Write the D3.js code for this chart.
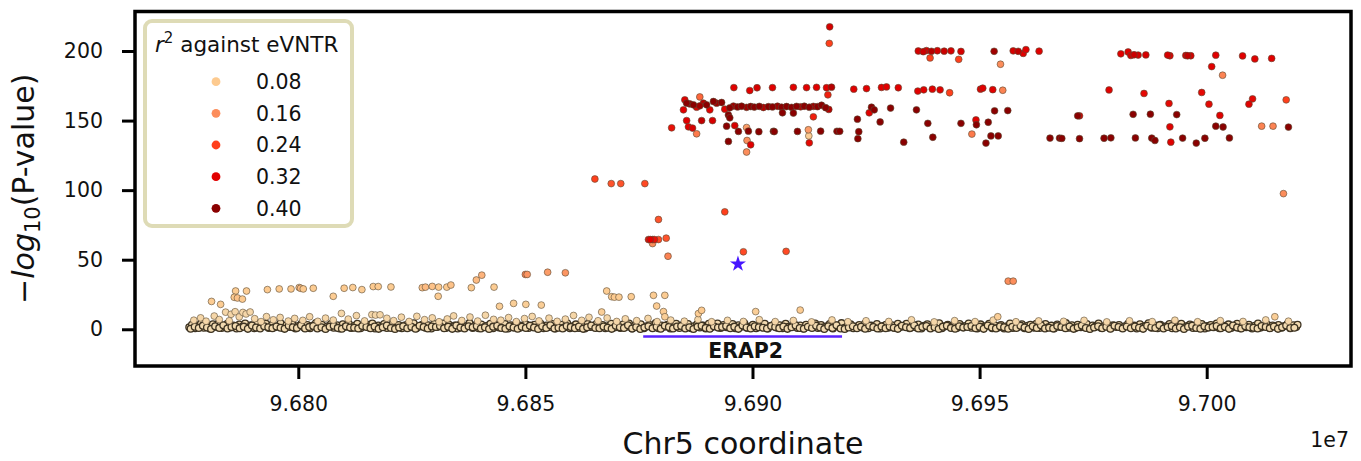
<!DOCTYPE html>
<html>
<head>
<meta charset="utf-8">
<script src="https://cdn.jsdelivr.net/npm/d3@7"></script>
<style>
  body { margin: 0; background: #fff; }
  svg { display: block; }
  text { font-family: "DejaVu Sans", sans-serif; }
</style>
</head>
<body>
<script>
// positions are kb offsets from 96,800,000 bp on chr5; y is -log10(P)
const originBp = 96800000;

// bulk of variants, r2 ~ 0
const baseline = [
  [-24.0,1.5],[-23.4,3.2],[-22.7,0.8],[-22.0,2.6],[-21.4,4.1],[-20.8,1.1],[-20.1,2.9],[-19.5,0.5],[-18.8,3.6],[-18.2,1.8],
  [-17.5,4.4],[-16.9,0.9],[-16.2,2.4],[-15.6,3.9],[-14.9,1.3],[-14.3,2.7],[-13.6,0.6],[-13.0,3.4],[-12.3,1.9],[-11.7,4.2],
  [-11.0,1.0],[-10.4,2.8],[-9.7,0.7],[-9.1,3.7],[-8.4,1.6],[-7.8,2.5],[-7.1,4.0],[-6.5,0.9],[-5.8,3.1],[-5.2,1.4],
  [-4.5,2.2],[-3.9,4.3],[-3.2,0.8],[-2.6,2.9],[-1.9,1.7],[-1.3,3.5],[-0.6,0.6],
  [0.0,2.3],[0.7,4.0],[1.3,1.2],[2.0,3.1],[2.6,0.7],[3.3,2.6],[3.9,4.5],[4.6,1.5],[5.2,3.3],[5.9,0.9],
  [6.5,2.1],[7.2,3.8],[7.8,1.1],[8.5,2.8],[9.1,0.5],[9.8,3.6],[10.4,1.9],[11.1,4.1],[11.7,1.0],[12.4,2.5],
  [13.0,3.9],[13.7,0.8],[14.3,2.2],[15.0,3.4],[15.6,1.3],[16.3,4.2],[16.9,0.6],[17.6,2.7],[18.2,1.6],[18.9,3.7],
  [19.5,0.9],[20.2,2.4],[20.8,4.0],[21.5,1.2],[22.1,3.0],[22.8,0.7],[23.4,2.6],[24.1,3.5],[24.7,1.4],[25.4,4.3],
  [26.0,0.8],[26.7,2.0],[27.3,3.2],[28.0,1.1],[28.6,2.9],[29.3,0.5],[29.9,3.8],[30.6,1.7],[31.2,2.4],[31.9,4.1],
  [32.5,0.9],[33.2,3.3],[33.8,1.5],[34.5,2.7],[35.1,0.6],[35.8,3.9],[36.4,1.8],[37.1,2.3],[37.7,4.4],[38.4,1.0],
  [39.0,2.8],[39.7,0.7],[40.3,3.4],[41.0,1.6],[41.6,2.5],[42.3,4.0],[42.9,0.8],[43.6,3.1],[44.2,1.3],[44.9,2.2],
  [45.5,3.7],[46.2,0.6],[46.8,2.9],[47.5,1.9],[48.1,4.2],[48.8,1.1],[49.4,2.6],
  [50.1,3.6],[50.7,0.9],[51.4,2.0],[52.0,3.3],[52.7,1.4],[53.3,4.1],[54.0,0.7],[54.6,2.7],[55.3,1.7],[55.9,3.8],
  [56.6,0.5],[57.2,2.4],[57.9,3.2],[58.5,1.2],[59.2,4.3],[59.8,0.8],[60.5,2.1],[61.1,3.5],[61.8,1.0],[62.4,2.9],
  [63.1,0.6],[63.7,3.7],[64.4,1.6],[65.0,2.5],[65.7,4.0],[66.3,1.1],[67.0,3.0],[67.6,0.7],[68.3,2.3],[68.9,3.9],
  [69.6,1.3],[70.2,2.8],[70.9,0.9],[71.5,3.4],[72.2,1.8],[72.8,4.2],[73.5,0.6],[74.1,2.6],[74.8,1.5],[75.4,3.6],
  [76.1,0.8],[76.7,2.2],[77.4,3.1],[78.0,1.2],[78.7,4.4],[79.3,0.7],[80.0,2.7],[80.6,1.9],[81.3,3.3],[81.9,0.5],
  [82.6,2.4],[83.2,4.0],[83.9,1.0],[84.5,2.9],[85.2,1.6],[85.8,3.8],[86.5,0.8],[87.1,2.1],[87.8,3.5],[88.4,1.3],
  [89.1,2.6],[89.7,0.6],[90.4,3.9],[91.0,1.7],[91.7,2.3],[92.3,4.1],[93.0,0.9],[93.6,3.0],[94.3,1.4],[94.9,2.5],
  [95.6,3.7],[96.2,0.7],[96.9,2.8],[97.5,1.8],[98.2,4.3],[98.8,1.1],[99.5,2.0],
  [100.1,3.2],[100.8,0.8],[101.4,2.6],[102.1,1.5],[102.7,3.9],[103.4,0.6],[104.0,2.4],[104.7,3.4],[105.3,1.2],[106.0,2.9],
  [106.6,0.7],[107.3,4.0],[107.9,1.7],[108.6,2.2],[109.2,3.6],[109.9,1.0],[110.5,2.7],[111.2,0.5],[111.8,3.3],[112.5,1.6],
  [113.1,2.5],[113.8,4.2],[114.4,0.9],[115.1,3.0],[115.7,1.4],[116.4,2.1],[117.0,3.8],[117.7,0.6],[118.3,2.8],[119.0,1.9],
  [119.6,4.4],[120.3,1.1],[120.9,2.4],[121.6,3.5],[122.2,0.8],[122.9,2.0],[123.5,3.1],[124.2,1.3],[124.8,4.1],[125.5,0.7],
  [126.1,2.6],[126.8,1.8],[127.4,3.7],[128.1,0.5],[128.7,2.3],[129.4,3.3],[130.0,1.2],[130.7,2.9],[131.3,0.9],[132.0,3.9],
  [132.6,1.6],[133.3,2.2],[133.9,4.0],[134.6,0.8],[135.2,2.7],[135.9,1.5],[136.5,3.4],[137.2,0.6],[137.8,2.5],[138.5,3.6],
  [139.1,1.0],[139.8,2.8],[140.4,1.7],[141.1,4.3],[141.7,0.7],[142.4,2.1],[143.0,3.2],[143.7,1.4],[144.3,2.6],[145.0,0.9],
  [145.6,3.8],[146.3,1.9],[146.9,2.3],[147.6,4.1],[148.2,1.1],[148.9,2.9],[149.5,0.6],
  [150.2,3.5],[150.8,1.6],[151.5,2.4],[152.1,3.9],[152.8,0.8],[153.4,2.7],[154.1,1.3],[154.7,3.1],[155.4,0.5],[156.0,2.2],
  [156.7,4.2],[157.3,1.0],[158.0,2.8],[158.6,1.8],[159.3,3.6],[159.9,0.7],[160.6,2.5],[161.2,3.3],[161.9,1.2],[162.5,4.0],
  [163.2,0.9],[163.8,2.1],[164.5,3.7],[165.1,1.5],[165.8,2.6],[166.4,0.6],[167.1,3.4],[167.7,1.7],[168.4,2.3],[169.0,4.4],
  [169.7,1.1],[170.3,2.9],[171.0,0.8],[171.6,3.2],[172.3,1.4],[172.9,2.0],[173.6,3.8],[174.2,0.5],[174.9,2.7],[175.5,1.9],
  [176.2,4.1],[176.8,1.0],[177.5,2.4],[178.1,3.5],[178.8,0.7],[179.4,2.8],[180.1,1.6],[180.7,3.0],[181.4,0.9],[182.0,2.2],
  [182.7,3.9],[183.3,1.3],[184.0,2.6],[184.6,0.6],[185.3,3.6],[185.9,1.8],[186.6,2.5],[187.2,4.3],[187.9,1.1],[188.5,2.9],
  [189.2,0.8],[189.8,3.3],[190.5,1.5],[191.1,2.1],[191.8,3.7],[192.4,0.7],[193.1,2.7],[193.7,1.9],[194.4,4.0],[195.0,1.2],
  [195.7,2.3],[196.3,3.4],[197.0,0.9],[197.6,2.8],[198.3,1.6],[198.9,3.8],[199.6,0.5],[200.2,2.4],[200.9,3.1],[201.5,1.4],
  [202.2,4.2],[202.8,0.8],[203.5,2.6],[204.1,1.7],[204.8,3.5],[205.4,1.0],[206.1,2.0],[206.7,3.9],[207.4,0.7],[208.0,2.9],
  [208.7,1.5],[209.3,3.3],[210.0,0.6],[210.6,2.5],[211.3,4.1],[211.9,1.2],[212.6,2.2],[213.2,3.6],[213.9,0.9],[214.5,2.7],
  [215.2,1.8],[215.8,3.0],[216.5,1.1],[217.1,2.4],[217.8,3.7],[218.4,0.8],[219.1,2.8],[219.7,1.6],[220.0,3.2]
];

// second layer of the bulk, lying lower
const baselineLow = [
  [-23.7,0.4],[-22.8,1.8],[-21.9,0.9],[-21.0,2.6],[-20.1,1.3],[-19.2,0.2],[-18.3,2.1],[-17.4,1.0],[-16.5,2.9],[-15.6,0.6],
  [-14.7,1.6],[-13.8,2.4],[-12.9,0.8],[-12.0,1.9],[-11.1,0.3],[-10.2,2.7],[-9.3,1.2],[-8.4,0.5],[-7.5,2.2],[-6.6,1.5],
  [-5.7,0.7],[-4.8,2.0],[-3.9,1.1],[-3.0,0.3],[-2.1,2.5],[-1.2,1.4],[-0.3,0.9],[0.6,2.8],[1.5,0.5],[2.4,1.7],
  [3.3,2.3],[4.2,0.6],[5.1,1.5],[6.0,0.2],[6.9,1.9],[7.8,2.6],[8.7,1.0],[9.6,0.4],[10.5,2.1],[11.4,1.2],
  [12.3,1.1],[13.2,0.5],[14.1,2.4],[15.0,1.7],[15.9,0.8],[16.8,2.0],[17.7,0.3],[18.6,1.4],[19.5,2.7],[20.4,0.9],
  [21.3,0.2],[22.2,1.3],[23.1,2.2],[24.0,0.7],[24.9,1.8],[25.8,0.4],[26.7,2.5],[27.6,1.6],[28.5,0.6],[29.4,2.0],
  [30.3,1.6],[31.2,2.4],[32.1,0.8],[33.0,1.9],[33.9,0.3],[34.8,2.7],[35.7,1.2],[36.6,0.5],[37.5,2.2],[38.4,1.5],
  [39.3,2.3],[40.2,0.6],[41.1,1.5],[42.0,0.2],[42.9,1.9],[43.8,2.6],[44.7,1.0],[45.6,0.4],[46.5,2.1],[47.4,1.2],
  [48.3,0.4],[49.2,1.8],[50.1,0.9],[51.0,2.6],[51.9,1.3],[52.8,0.2],[53.7,2.1],[54.6,1.0],[55.5,2.9],[56.4,0.6],
  [57.3,1.1],[58.2,0.5],[59.1,2.4],[60.0,1.7],[60.9,0.8],[61.8,2.0],[62.7,0.3],[63.6,1.4],[64.5,2.7],[65.4,0.9],
  [66.3,0.7],[67.2,2.0],[68.1,1.1],[69.0,0.3],[69.9,2.5],[70.8,1.4],[71.7,0.9],[72.6,2.8],[73.5,0.5],[74.4,1.7],
  [75.3,0.2],[76.2,1.3],[77.1,2.2],[78.0,0.7],[78.9,1.8],[79.8,0.4],[80.7,2.5],[81.6,1.6],[82.5,0.6],[83.4,2.0],
  [84.3,2.3],[85.2,0.6],[86.1,1.5],[87.0,0.2],[87.9,1.9],[88.8,2.6],[89.7,1.0],[90.6,0.4],[91.5,2.1],[92.4,1.2],
  [93.3,1.6],[94.2,2.4],[95.1,0.8],[96.0,1.9],[96.9,0.3],[97.8,2.7],[98.7,1.2],[99.6,0.5],[100.5,2.2],[101.4,1.5],
  [102.3,1.1],[103.2,0.5],[104.1,2.4],[105.0,1.7],[105.9,0.8],[106.8,2.0],[107.7,0.3],[108.6,1.4],[109.5,2.7],[110.4,0.9],
  [111.3,0.4],[112.2,1.8],[113.1,0.9],[114.0,2.6],[114.9,1.3],[115.8,0.2],[116.7,2.1],[117.6,1.0],[118.5,2.9],[119.4,0.6],
  [120.3,0.2],[121.2,1.3],[122.1,2.2],[123.0,0.7],[123.9,1.8],[124.8,0.4],[125.7,2.5],[126.6,1.6],[127.5,0.6],[128.4,2.0],
  [129.3,0.7],[130.2,2.0],[131.1,1.1],[132.0,0.3],[132.9,2.5],[133.8,1.4],[134.7,0.9],[135.6,2.8],[136.5,0.5],[137.4,1.7],
  [138.3,2.3],[139.2,0.6],[140.1,1.5],[141.0,0.2],[141.9,1.9],[142.8,2.6],[143.7,1.0],[144.6,0.4],[145.5,2.1],[146.4,1.2],
  [147.3,1.6],[148.2,2.4],[149.1,0.8],[150.0,1.9],[150.9,0.3],[151.8,2.7],[152.7,1.2],[153.6,0.5],[154.5,2.2],[155.4,1.5],
  [156.3,0.4],[157.2,1.8],[158.1,0.9],[159.0,2.6],[159.9,1.3],[160.8,0.2],[161.7,2.1],[162.6,1.0],[163.5,2.9],[164.4,0.6],
  [165.3,1.1],[166.2,0.5],[167.1,2.4],[168.0,1.7],[168.9,0.8],[169.8,2.0],[170.7,0.3],[171.6,1.4],[172.5,2.7],[173.4,0.9],
  [174.3,0.2],[175.2,1.3],[176.1,2.2],[177.0,0.7],[177.9,1.8],[178.8,0.4],[179.7,2.5],[180.6,1.6],[181.5,0.6],[182.4,2.0],
  [183.3,0.7],[184.2,2.0],[185.1,1.1],[186.0,0.3],[186.9,2.5],[187.8,1.4],[188.7,0.9],[189.6,2.8],[190.5,0.5],[191.4,1.7],
  [192.3,2.3],[193.2,0.6],[194.1,1.5],[195.0,0.2],[195.9,1.9],[196.8,2.6],[197.7,1.0],[198.6,0.4],[199.5,2.1],[200.4,1.2],
  [201.3,1.6],[202.2,2.4],[203.1,0.8],[204.0,1.9],[204.9,0.3],[205.8,2.7],[206.7,1.2],[207.6,0.5],[208.5,2.2],[209.4,1.5],
  [210.3,1.1],[211.2,0.5],[212.1,2.4],[213.0,1.7],[213.9,0.8],[214.8,2.0],[215.7,0.3],[216.6,1.4],[217.5,2.7],[218.4,0.9],
  [219.3,1.1]
];

// slightly raised background variants
const raised = [
  [-23.0,6.5],[-21.5,8.2],[-20.3,5.8],[-18.5,9.5],[-17.4,7.0],[-16.0,12.3],[-15.2,6.1],[-14.8,10.8],[-13.9,12.6],[-13.0,8.9],
  [-12.2,12.1],[-11.5,11.0],[-10.6,12.4],[-9.6,7.6],[-8.2,5.5],[-7.0,9.1],[-5.5,6.8],[-4.0,8.5],[-2.2,5.9],[-0.8,7.8],
  [1.0,6.4],[2.5,9.0],[4.3,5.7],[6.0,8.0],[7.7,6.6],[9.5,11.4],[11.0,7.3],[12.8,9.8],[14.6,6.0],[16.2,10.5],
  [17.0,10.2],[18.0,10.4],[19.5,7.9],[21.0,6.2],[22.7,8.7],[24.4,5.6],[26.1,9.3],[27.8,6.9],[29.5,8.2],[31.0,5.4],
  [32.8,7.4],[34.2,9.6],[36.0,6.3],[37.8,8.8],[39.5,5.9],[41.2,10.1],[43.0,7.1],[44.6,6.5],[46.3,8.4],[48.0,5.5],
  [49.8,7.7],[51.5,9.2],[53.0,6.0],[55.2,8.0],[57.0,5.7],[58.8,7.3],[60.6,9.9],[62.4,6.4],[64.0,8.6],[66.0,6.1],
  [68.0,8.1],[70.1,5.6],[72.0,7.5],[74.5,6.2],[77.0,7.8],[79.0,5.5],[82.0,6.6],[85.0,5.8],[88.0,7.0],[91.0,5.4],
  [94.5,6.4],[98.0,5.6],[101.5,6.9],[105.0,5.5],[109.0,6.3],[113.0,5.3],[117.5,6.7],[121.0,5.4],[125.0,6.1],[130.0,5.6],
  [135.0,6.8],[140.0,5.3],[144.5,6.2],[149.0,5.5],[153.0,6.6],[158.0,5.4],[163.0,6.0],[168.5,5.7],[173.0,6.4],[178.0,5.3],
  [183.0,6.1],[188.0,5.5],[193.0,6.5],[198.0,5.4],[203.0,6.2],[208.0,5.6],[213.0,6.7],[218.0,5.8]
];

// weakly linked variants: [kb offset, -log10 P, r2]
const weak = [
  [-19.1,20.0,0.07],[-17.1,17.9,0.07],[-13.8,27.5,0.07],[-11.4,27.5,0.07],[-14.1,23.0,0.08],[-13.4,22.5,0.09],[-12.3,21.7,0.08],
  [-6.8,28.5,0.08],[-4.2,29.0,0.08],[-1.6,29.0,0.08],[0.2,30.0,0.09],[0.5,29.5,0.10],[1.1,29.0,0.08],[3.3,29.5,0.07],
  [7.7,23.7,0.07],[10.1,29.5,0.08],[12.0,30.0,0.07],[14.0,28.5,0.07],[16.5,30.7,0.08],[17.6,30.7,0.08],[20.4,30.4,0.07],
  [27.3,29.9,0.09],[28.0,30.3,0.10],[29.5,30.8,0.09],[30.9,30.3,0.08],[30.8,23.7,0.07],[32.7,30.3,0.08],[33.6,31.8,0.09],
  [38.1,29.9,0.08],[39.2,35.4,0.10],[40.4,38.9,0.11],[43.1,30.3,0.07],[44.3,16.5,0.06],[47.4,18.6,0.06],[50.1,17.9,0.06],
  [53.5,17.4,0.06],[50.0,39.4,0.17],[50.4,39.4,0.15],[54.9,41.0,0.14],[58.8,40.6,0.15],[66.8,12.4,0.06],[67.9,27.5,0.07],
  [69.0,23.4,0.07],[69.6,23.1,0.08],[70.6,23.1,0.07],[73.3,23.4,0.07],[78.2,24.4,0.07],[80.7,24.4,0.07],[78.9,16.7,0.07],
  [80.4,12.7,0.07],[80.7,9.0,0.06],[88.1,11.3,0.07],[88.8,13.6,0.08],[100.7,12.7,0.06],[110.5,13.8,0.07],[154.0,9.0,0.06],
  [215.0,9.0,0.06],[156.3,34.6,0.16],[157.4,34.6,0.16]
];

// variants in LD with the eVNTR: [kb offset, -log10 P, r2]
const linked = [
  [117.0,217.4,0.33],[116.9,205.5,0.24],
  [136.5,200.0,0.33],[137.6,199.5,0.34],[138.3,200.3,0.33],[139.4,199.8,0.36],[140.7,200.2,0.33],[142.2,199.9,0.34],
  [143.7,200.1,0.33],[145.9,199.7,0.33],[153.2,199.8,0.38],[157.4,200.1,0.33],[158.5,199.8,0.35],[159.6,198.3,0.32],
  [160.2,201.0,0.32],[163.1,199.9,0.32],[139.1,195.0,0.24],[145.4,194.0,0.24],[154.6,190.5,0.16],
  [181.1,198.0,0.32],[182.7,199.3,0.32],[183.3,196.8,0.33],[184.0,197.3,0.34],[184.9,197.1,0.33],[186.6,197.2,0.33],
  [191.4,197.1,0.33],[191.9,196.6,0.32],[195.4,196.8,0.33],[195.8,196.6,0.35],[196.5,196.6,0.33],[202.0,197.0,0.32],
  [207.9,196.5,0.32],[210.6,194.3,0.32],[214.3,194.7,0.32],[201.1,188.8,0.32],[203.5,182.6,0.17],
  [95.9,173.7,0.32],[99.4,171.6,0.32],[101.0,173.6,0.33],[104.4,173.7,0.32],[109.0,173.9,0.32],[111.9,173.7,0.32],
  [114.1,173.9,0.32],[116.3,173.6,0.32],[117.4,174.0,0.36],[122.3,172.6,0.32],[125.1,173.0,0.32],[128.4,173.8,0.32],
  [129.5,174.2,0.32],[132.1,173.6,0.32],[136.4,171.2,0.32],[137.7,172.1,0.32],[139.6,172.6,0.32],[141.3,172.1,0.32],
  [143.4,170.0,0.24],[116.6,168.5,0.28],[150.2,172.6,0.32],[150.7,173.3,0.32],[152.9,172.2,0.32],[155.1,171.8,0.17],
  [178.5,172.0,0.32],[186.2,169.5,0.31],[198.9,170.2,0.31],[191.7,162.3,0.31],[200.5,161.8,0.31],[210.1,165.6,0.31],
  [209.3,161.8,0.32],[217.5,164.9,0.24],
  [85.1,164.9,0.32],[88.4,167.0,0.20],[84.8,157.7,0.32],[85.5,162.5,0.40],[86.2,162.0,0.38],[87.0,161.3,0.40],
  [87.7,159.6,0.32],[88.4,160.6,0.38],[89.2,162.5,0.36],[89.9,161.3,0.40],[90.6,157.7,0.32],[91.4,163.7,0.40],
  [92.1,162.5,0.38],[93.2,163.0,0.40],[93.9,158.2,0.32],
  [95.0,159.2,0.40],[95.8,160.4,0.38],[96.7,159.8,0.40],[97.6,160.3,0.40],[98.7,159.5,0.38],[99.6,160.1,0.40],
  [100.4,159.7,0.40],[101.5,160.2,0.40],[102.4,159.4,0.36],[103.5,160.0,0.40],[104.4,159.8,0.40],[105.5,160.3,0.38],
  [106.4,159.6,0.40],[107.5,160.1,0.40],[108.6,159.5,0.40],[109.7,160.2,0.40],[110.6,159.9,0.36],[111.4,160.3,0.40],
  [112.5,159.6,0.40],[113.4,160.2,0.38],[114.3,160.0,0.40],[115.2,161.0,0.40],[116.1,159.3,0.40],[116.8,158.0,0.36],
  [106.6,155.6,0.40],[109.0,155.4,0.40],[94.7,154.0,0.40],[95.0,152.0,0.40],
  [126.2,159.6,0.40],[126.8,157.7,0.40],[130.4,159.0,0.40],[136.1,157.7,0.40],[125.7,155.6,0.32],[113.4,152.7,0.28],
  [85.5,150.0,0.32],[88.8,150.0,0.35],[91.2,150.0,0.33],[94.3,146.0,0.40],[96.1,146.4,0.33],[123.1,151.0,0.40],
  [128.1,149.0,0.40],[138.6,148.0,0.40],[85.9,145.5,0.32],[86.8,144.6,0.33],[82.2,144.8,0.30],[87.7,140.5,0.18],
  [98.7,145.0,0.14],
  [96.9,142.2,0.40],[99.1,142.4,0.40],[101.4,142.0,0.40],[104.6,142.3,0.40],[104.8,142.1,0.40],[109.9,142.2,0.40],
  [115.0,142.4,0.40],[118.6,142.3,0.40],[119.2,142.3,0.40],[123.4,142.0,0.40],
  [112.3,143.4,0.14],[112.4,139.0,0.07],[94.7,135.0,0.40],[98.8,135.7,0.16],[99.6,132.6,0.32],[112.5,134.0,0.31],
  [98.7,127.4,0.16],[123.2,137.0,0.40],[133.3,134.5,0.40],[139.7,138.0,0.40],
  [153.3,157.0,0.40],[156.2,157.2,0.40],[171.6,153.4,0.40],[172.0,153.4,0.33],[183.8,154.5,0.40],[187.6,154.6,0.40],
  [193.4,154.3,0.40],[202.9,153.7,0.32],[145.9,148.0,0.40],[149.2,150.5,0.32],[149.3,147.0,0.40],[151.9,148.8,0.40],
  [191.9,145.5,0.32],[202.0,146.0,0.40],[203.6,145.4,0.40],[212.1,146.0,0.17],[214.6,146.0,0.17],[218.0,145.3,0.40],
  [148.3,140.3,0.18],[152.5,139.0,0.40],[154.1,139.0,0.40],[151.4,133.8,0.40],
  [165.5,137.4,0.40],[167.6,137.4,0.40],[168.1,137.2,0.40],[172.0,137.0,0.40],[177.4,137.3,0.40],[178.9,137.6,0.40],
  [184.3,137.5,0.40],[187.9,137.4,0.40],[188.6,135.7,0.40],[194.7,137.4,0.40],[199.6,137.3,0.40],[205.0,137.5,0.40],
  [192.1,134.5,0.32],[197.7,133.8,0.40],[216.9,97.5,0.16],
  [65.3,108.0,0.24],[68.9,104.7,0.22],[71.0,104.7,0.22],[76.3,104.7,0.23],[79.3,78.9,0.22],[77.1,64.5,0.30],
  [77.5,64.5,0.32],[78.0,64.5,0.28],[78.4,64.5,0.30],[79.3,64.5,0.23],[78.0,61.6,0.16],[81.0,65.5,0.22],
  [81.4,52.5,0.17],[93.9,84.4,0.24],[98.0,55.7,0.23],[107.4,56.0,0.23]
];

const eVNTR = [96.8, 46.9];
const gene = { name: "ERAP2", start: 96875939, end: 96919716 };

const xTicks = [9.680, 9.685, 9.690, 9.695, 9.700];
const yTicks = [0, 50, 100, 150, 200];
const legendLevels = [0.08, 0.16, 0.24, 0.32, 0.40];

const width = 1361, height = 461;
const plot = { left: 135, right: 1351, top: 11.5, bottom: 366 };

const svg = d3.select("body").append("svg")
  .attr("width", width)
  .attr("height", height);

const x = d3.scaleLinear().domain([96764050, 97031770]).range([plot.left, plot.right]);
const y = d3.scaleLinear().domain([-26.4, 228.4]).range([plot.bottom, plot.top]);

const color = d3.scaleLinear()
  .domain([0, 0.08, 0.16, 0.24, 0.32, 0.40])
  .range(["#f2dab0", "#fdca8f", "#fc8d5b", "#ff3f1c", "#e10000", "#8a0000"])
  .clamp(true);

const pos = kb => originBp + kb * 1000;

const bulk = baseline.concat(baselineLow).map(d => ({ kb: d[0], p: d[1], r2: 0 }));
const others = []
  .concat(raised.map(d => ({ kb: d[0], p: d[1], r2: 0.02 })))
  .concat(weak.map(d => ({ kb: d[0], p: d[1], r2: d[2] })))
  .concat(linked.map(d => ({ kb: d[0], p: d[1], r2: d[2] })).sort((a, b) => a.r2 - b.r2));

// dense bulk: darker, heavier outlines as in the packed band
svg.append("g")
  .selectAll("circle")
  .data(bulk)
  .enter().append("circle")
  .attr("cx", d => x(pos(d.kb)))
  .attr("cy", d => y(d.p))
  .attr("r", 3.4)
  .attr("fill", d => color(d.r2))
  .attr("stroke", "#3d3322")
  .attr("stroke-width", 1.3);

svg.append("g")
  .selectAll("circle")
  .data(others)
  .enter().append("circle")
  .attr("cx", d => x(pos(d.kb)))
  .attr("cy", d => y(d.p))
  .attr("r", 3.4)
  .attr("fill", d => color(d.r2))
  .attr("stroke", "#5a4c36")
  .attr("stroke-width", 0.6);

// eVNTR star
svg.append("path")
  .attr("d", d3.symbol(d3.symbolStar, 80)())
  .attr("transform", `translate(${x(pos(eVNTR[0]))},${y(eVNTR[1])})`)
  .attr("fill", "#4615ff");

// gene track
svg.append("line")
  .attr("x1", x(gene.start)).attr("x2", x(gene.end))
  .attr("y1", 336.5).attr("y2", 336.5)
  .attr("stroke", "#5a22ff")
  .attr("stroke-width", 2.5);
svg.append("text")
  .attr("x", (x(gene.start) + x(gene.end)) / 2 + 3)
  .attr("y", 357.5)
  .attr("text-anchor", "middle")
  .attr("font-size", 20.5)
  .attr("font-weight", "bold")
  .attr("fill", "#111")
  .text(gene.name);

// axes
const styleAxis = g => {
  g.select(".domain").remove();
  g.selectAll(".tick line").attr("stroke", "#000").attr("stroke-width", 3);
  g.selectAll(".tick text").attr("font-size", 20.5).attr("fill", "#111")
    .attr("font-family", '"DejaVu Sans", sans-serif');
};

svg.append("g")
  .attr("transform", `translate(0,${plot.bottom})`)
  .call(d3.axisBottom(x)
    .tickValues(xTicks.map(t => Math.round(t * 1e7)))
    .tickFormat(d => (d / 1e7).toFixed(3))
    .tickSize(13)
    .tickPadding(17))
  .call(styleAxis);

svg.append("g")
  .attr("transform", `translate(${plot.left},0)`)
  .call(d3.axisLeft(y)
    .tickValues(yTicks)
    .tickSize(13)
    .tickPadding(19))
  .call(styleAxis);

// frame
svg.append("rect")
  .attr("x", plot.left).attr("y", plot.top)
  .attr("width", plot.right - plot.left)
  .attr("height", plot.bottom - plot.top)
  .attr("fill", "none")
  .attr("stroke", "#000")
  .attr("stroke-width", 3.5);

// axis labels
svg.append("text")
  .attr("x", (plot.left + plot.right) / 2)
  .attr("y", 454)
  .attr("text-anchor", "middle")
  .attr("font-size", 30)
  .attr("fill", "#111")
  .text("Chr5 coordinate");

svg.append("text")
  .attr("x", plot.right - 2)
  .attr("y", 447)
  .attr("text-anchor", "end")
  .attr("font-size", 20.5)
  .attr("fill", "#111")
  .text("1e7");

const ylab = svg.append("text")
  .attr("transform", `translate(34,${(plot.top + plot.bottom) / 2}) rotate(-90)`)
  .attr("text-anchor", "middle")
  .attr("font-size", 30)
  .attr("fill", "#111");
ylab.append("tspan").text("\u2212");
ylab.append("tspan").attr("font-style", "italic").text("log");
ylab.append("tspan").attr("font-size", 21).attr("dy", 6).text("10");
ylab.append("tspan").attr("dy", -6).text("(P-value)");

// legend
const lg = svg.append("g");
lg.append("rect")
  .attr("x", 145).attr("y", 21)
  .attr("width", 207).attr("height", 205)
  .attr("rx", 7)
  .attr("fill", "#fff")
  .attr("stroke", "#dedbb6")
  .attr("stroke-width", 4);
const lt = lg.append("text")
  .attr("x", 155).attr("y", 52)
  .attr("font-size", 21.5)
  .attr("fill", "#111");
lt.append("tspan").attr("font-style", "italic").text("r");
lt.append("tspan").attr("font-size", 15).attr("dy", -9).text("2");
lt.append("tspan").attr("dy", 9).text(" against eVNTR");

const item = lg.selectAll("g.item")
  .data(legendLevels)
  .enter().append("g")
  .attr("class", "item")
  .attr("transform", (d, i) => `translate(0,${81.7 + i * 31.65})`);
item.append("circle")
  .attr("cx", 216).attr("r", 4.4)
  .attr("fill", d => color(d));
item.append("text")
  .attr("x", 256).attr("y", 7.3)
  .attr("font-size", 20.5)
  .attr("fill", "#111")
  .text(d => d.toFixed(2));
</script>
</body>
</html>
